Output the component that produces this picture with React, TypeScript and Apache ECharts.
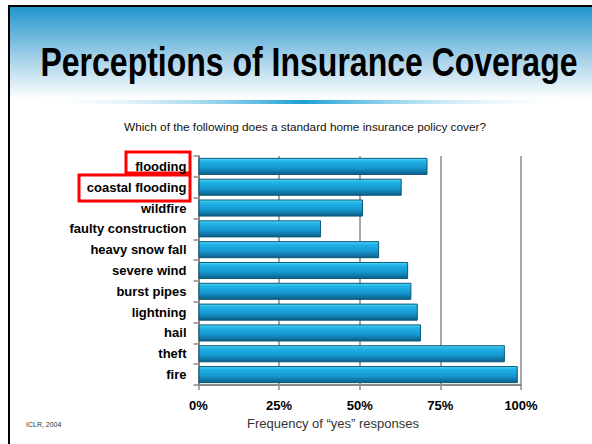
import React, { useEffect, useRef } from "react";
import * as echarts from "echarts";

const categories = [
  "flooding",
  "coastal flooding",
  "wildfire",
  "faulty construction",
  "heavy snow fall",
  "severe wind",
  "burst pipes",
  "lightning",
  "hail",
  "theft",
  "fire",
];
const yesShare = [0.71, 0.63, 0.51, 0.38, 0.56, 0.65, 0.66, 0.68, 0.69, 0.95, 0.99];
const tickValues = [0, 0.25, 0.5, 0.75, 1];

const FONT = "'Liberation Sans', Arial, Helvetica, sans-serif";

export default function App() {
  const ref = useRef<HTMLDivElement>(null);
  useEffect(() => {
    document.body.style.margin = "0";
    const chart = echarts.init(ref.current!, null, { renderer: "svg" });
    chart.setOption({
      animation: false,
      backgroundColor: "#ffffff",
      grid: { left: 198.5, right: 71, top: 156, bottom: 59 },
      xAxis: {
        type: "value",
        min: 0,
        max: 1,
        interval: 0.25,
        axisLine: { show: true, lineStyle: { color: "#8a8a8a", width: 2 } },
        axisTick: { show: true, length: 5, lineStyle: { color: "#8a8a8a", width: 1.5 } },
        splitLine: { show: true, lineStyle: { color: "#8a8a8a", width: 1.5 } },
        axisLabel: {
          margin: 14,
          color: "#000",
          fontFamily: FONT,
          fontWeight: "bold",
          fontSize: 13,
          formatter: (v: number) => (tickValues.includes(v) ? Math.round(v * 100) + "%" : ""),
        },
      },
      yAxis: {
        type: "category",
        data: categories,
        inverse: true,
        axisLine: { show: true, lineStyle: { color: "#8a8a8a", width: 2 } },
        axisTick: { show: true, length: 5, lineStyle: { color: "#8a8a8a", width: 1.5 } },
        axisLabel: {
          margin: 12,
          color: "#000",
          fontFamily: FONT,
          fontWeight: "bold",
          fontSize: 13,
        },
      },
      series: [
        {
          type: "bar",
          data: yesShare,
          barCategoryGap: "18%",
          itemStyle: {
            borderColor: "#0d5878",
            borderWidth: 1,
            color: new echarts.graphic.LinearGradient(0, 0, 0, 1, [
              { offset: 0, color: "#52dcf8" },
              { offset: 0.18, color: "#20b2e6" },
              { offset: 0.6, color: "#1597cf" },
              { offset: 1, color: "#0c5e86" },
            ]),
          },
        },
      ],
      graphic: [
        {
          type: "rect",
          z: -10,
          shape: { x: 10, y: 7, width: 582, height: 92 },
          style: {
            fill: new echarts.graphic.LinearGradient(0, 0, 0, 1, [
              { offset: 0, color: "#2196cd" },
              { offset: 0.55, color: "#a4d0e8" },
              { offset: 1, color: "#ffffff" },
            ]),
          },
        },
        {
          type: "rect",
          shape: { x: 30, y: 100, width: 545, height: 4 },
          style: {
            fill: new echarts.graphic.LinearGradient(0, 0, 1, 0, [
              { offset: 0, color: "rgba(255,255,255,0)" },
              { offset: 0.5, color: "#1a9fd4" },
              { offset: 1, color: "rgba(255,255,255,0)" },
            ]),
          },
        },
        { type: "rect", shape: { x: 8, y: 5, width: 2, height: 439 }, style: { fill: "#000" } },
        { type: "rect", shape: { x: 8, y: 5, width: 584, height: 2 }, style: { fill: "#000" } },
        {
          type: "text",
          x: 309,
          y: 62,
          scaleX: 0.8,
          style: {
            text: "Perceptions of Insurance Coverage",
            font: `bold 40px ${FONT}`,
            fill: "#000",
            align: "center",
            verticalAlign: "middle",
          },
        },
        {
          type: "text",
          x: 305,
          y: 127,
          style: {
            text: "Which of the following does a standard home insurance policy cover?",
            font: `11.8px ${FONT}`,
            fill: "#111",
            align: "center",
            verticalAlign: "middle",
          },
        },
        {
          type: "text",
          x: 333,
          y: 423,
          style: {
            text: "Frequency of \u201cyes\u201d responses",
            font: `13px ${FONT}`,
            fill: "#333",
            align: "center",
            verticalAlign: "middle",
          },
        },
        {
          type: "text",
          x: 26,
          y: 424,
          style: {
            text: "ICLR, 2004",
            font: `7px ${FONT}`,
            fill: "#333",
            align: "left",
            verticalAlign: "middle",
          },
        },
        {
          type: "rect",
          shape: { x: 126, y: 152, width: 64, height: 21 },
          style: { fill: "none", stroke: "#ff0000", lineWidth: 3 },
        },
        {
          type: "rect",
          shape: { x: 79, y: 175, width: 111, height: 26 },
          style: { fill: "none", stroke: "#ff0000", lineWidth: 3 },
        },
      ],
    });
    return () => chart.dispose();
  }, []);
  return <div ref={ref} style={{ width: 592, height: 444 }} />;
}
